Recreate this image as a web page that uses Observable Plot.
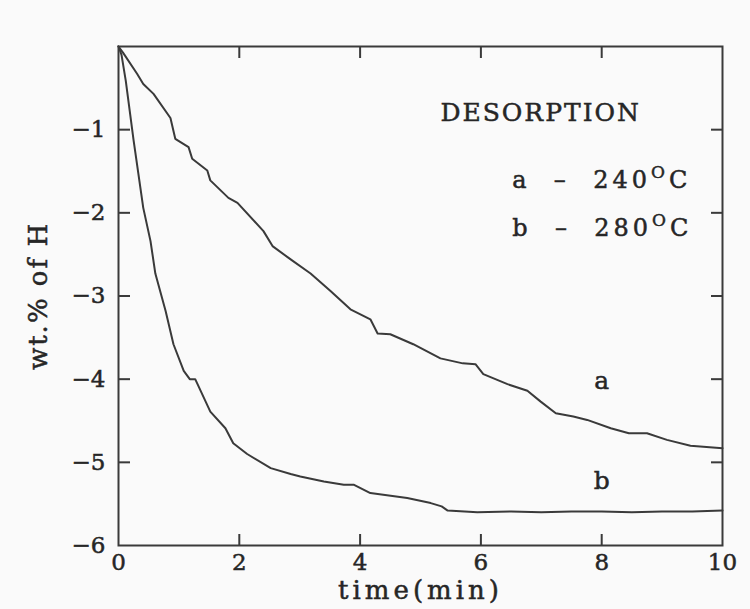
<!DOCTYPE html>
<html><head><meta charset="utf-8">
<script src="https://cdn.jsdelivr.net/npm/d3@7"></script>
<script src="https://cdn.jsdelivr.net/npm/@observablehq/plot@0.6"></script>
<style>
body{margin:0;background:#fafafa;}
svg text{white-space:pre;}
</style></head><body><div id="chart"></div>
<script>
// Curve a: 240 °C
const timeA = [0, 0.08, 0.31, 0.41, 0.58, 0.86, 0.94, 1.16, 1.22, 1.47, 1.52, 1.82, 1.97, 2.4, 2.55, 2.85, 3.18, 3.51, 3.84, 4.17, 4.29, 4.5, 4.88, 5.33, 5.7, 5.91, 6.04, 6.44, 6.77, 6.99, 7.24, 7.53, 7.76, 8.15, 8.45, 8.75, 9.08, 9.47, 10];
const whA   = [0, -0.08, -0.33, -0.45, -0.57, -0.86, -1.11, -1.21, -1.35, -1.49, -1.61, -1.82, -1.88, -2.22, -2.40, -2.56, -2.73, -2.94, -3.16, -3.28, -3.45, -3.46, -3.58, -3.75, -3.81, -3.82, -3.94, -4.06, -4.14, -4.27, -4.41, -4.45, -4.49, -4.59, -4.65, -4.65, -4.73, -4.80, -4.83];
// Curve b: 280 °C
const timeB = [0, 0.05, 0.12, 0.25, 0.41, 0.53, 0.61, 0.78, 0.91, 1.08, 1.18, 1.27, 1.52, 1.77, 1.9, 2.13, 2.52, 2.85, 3.01, 3.4, 3.73, 3.9, 4.17, 4.78, 5.17, 5.35, 5.45, 5.94, 6.5, 7, 7.5, 8, 8.5, 9, 9.5, 10];
const whB   = [0, -0.1, -0.41, -1.13, -1.94, -2.34, -2.73, -3.18, -3.58, -3.9, -4.0, -4.0, -4.39, -4.59, -4.77, -4.9, -5.07, -5.14, -5.17, -5.23, -5.27, -5.27, -5.37, -5.43, -5.49, -5.53, -5.58, -5.60, -5.59, -5.60, -5.59, -5.59, -5.60, -5.59, -5.59, -5.58];

const xTickLabels = [0, 2, 4, 6, 8, 10];
const yTickLabels = [-1, -2, -3, -4, -5, -6];
const xInnerTicks = [2, 4, 6, 8];
const yInnerTicks = [-1, -2, -3, -4, -5];

const xTitle = "time(min)";
const yTitle = "wt.% of H";
const legendTitle = [{text: "DESORPTION", t: 5.33, v: -0.80}];
const legendRows = [
  {text: "a  –  240OC", t: 6.52, v: -1.61},
  {text: "b  –  280OC", t: 6.52, v: -2.19}
];
const curveLabels = [
  {text: "a", t: 8.0, v: -4.02},
  {text: "b", t: 8.0, v: -5.22}
];

const seriesA = timeA.map((t, i) => ({t, v: whA[i]}));
const seriesB = timeB.map((t, i) => ({t, v: whB[i]}));

const ink = "#262626";
const lineInk = "#3a3a3a";
const font = "DejaVu Serif";
const intFmt = d3.format("d");

const chart = Plot.plot({
  width: 750, height: 609,
  marginLeft: 118, marginRight: 28, marginTop: 46, marginBottom: 64,
  style: {background: "#fafafa", fontFamily: font, color: ink, overflow: "visible"},
  x: {domain: [0, 10], label: null},
  y: {domain: [-6, 0], label: null},
  marks: [
    Plot.axisX(xTickLabels, {anchor: "bottom", tickSize: 0, tickPadding: 8, fontSize: 23, fill: ink, tickFormat: intFmt, label: null}),
    Plot.axisX(xInnerTicks, {anchor: "bottom", tickSize: -11, tickFormat: () => "", strokeWidth: 2, stroke: lineInk, label: null}),
    Plot.axisX(xInnerTicks, {anchor: "top", tickSize: -11, tickFormat: () => "", strokeWidth: 2, stroke: lineInk, label: null}),
    Plot.axisY(yTickLabels, {anchor: "left", tickSize: 0, tickPadding: 13, fontSize: 23, fill: ink, tickFormat: intFmt, label: null}),
    Plot.axisY(yInnerTicks, {anchor: "left", tickSize: -12, tickFormat: () => "", strokeWidth: 2, stroke: lineInk, label: null}),
    Plot.axisY(yInnerTicks, {anchor: "right", tickSize: -12, tickFormat: () => "", strokeWidth: 2, stroke: lineInk, label: null}),
    Plot.frame({stroke: lineInk, strokeWidth: 2}),
    Plot.line(seriesA, {x: "t", y: "v", stroke: lineInk, strokeWidth: 2}),
    Plot.line(seriesB, {x: "t", y: "v", stroke: lineInk, strokeWidth: 2}),
    Plot.text([xTitle], {frameAnchor: "bottom", textAnchor: "middle", lineAnchor: "middle", dy: 45, fontSize: 26, fill: ink}),
    Plot.text([yTitle], {frameAnchor: "left", textAnchor: "middle", lineAnchor: "middle", dx: -80, rotate: -90, fontSize: 26, fill: ink}),
    Plot.text(legendTitle, {x: "t", y: "v", text: "text", textAnchor: "start", fontSize: 25, fill: ink}),
    Plot.text(legendRows, {x: "t", y: "v", text: "text", textAnchor: "start", fontSize: 24, fill: ink}),
    Plot.text(curveLabels, {x: "t", y: "v", text: "text", fontSize: 25, fill: ink})
  ]
});

// superscript "O" in the temperature labels
d3.select(chart).selectAll("text").each(function() {
  const m = this.textContent.match(/^(.*\d)O(C)$/);
  if (m) {
    const s = d3.select(this).style("letter-spacing", "4px");
    s.text("");
    s.append("tspan").text(m[1]);
    s.append("tspan").attr("dy", -10).attr("font-size", 17).text("O");
    s.append("tspan").attr("dy", 10).text(m[2]);
  }
});
const sel = d3.select(chart).selectAll("text");
sel.filter(function(){ return /time/.test(this.textContent); }).style("letter-spacing", "4px");
sel.filter(function(){ return /wt\./.test(this.textContent); }).style("letter-spacing", "2px");
sel.filter(function(){ return /DESORP/.test(this.textContent); }).style("letter-spacing", "2px");
sel.style("stroke", ink).style("stroke-width", "0.5px");
d3.select(chart).selectAll("g[aria-label$='tick'] text").style("letter-spacing", "1px");

document.getElementById("chart").append(chart);
</script></body></html>
